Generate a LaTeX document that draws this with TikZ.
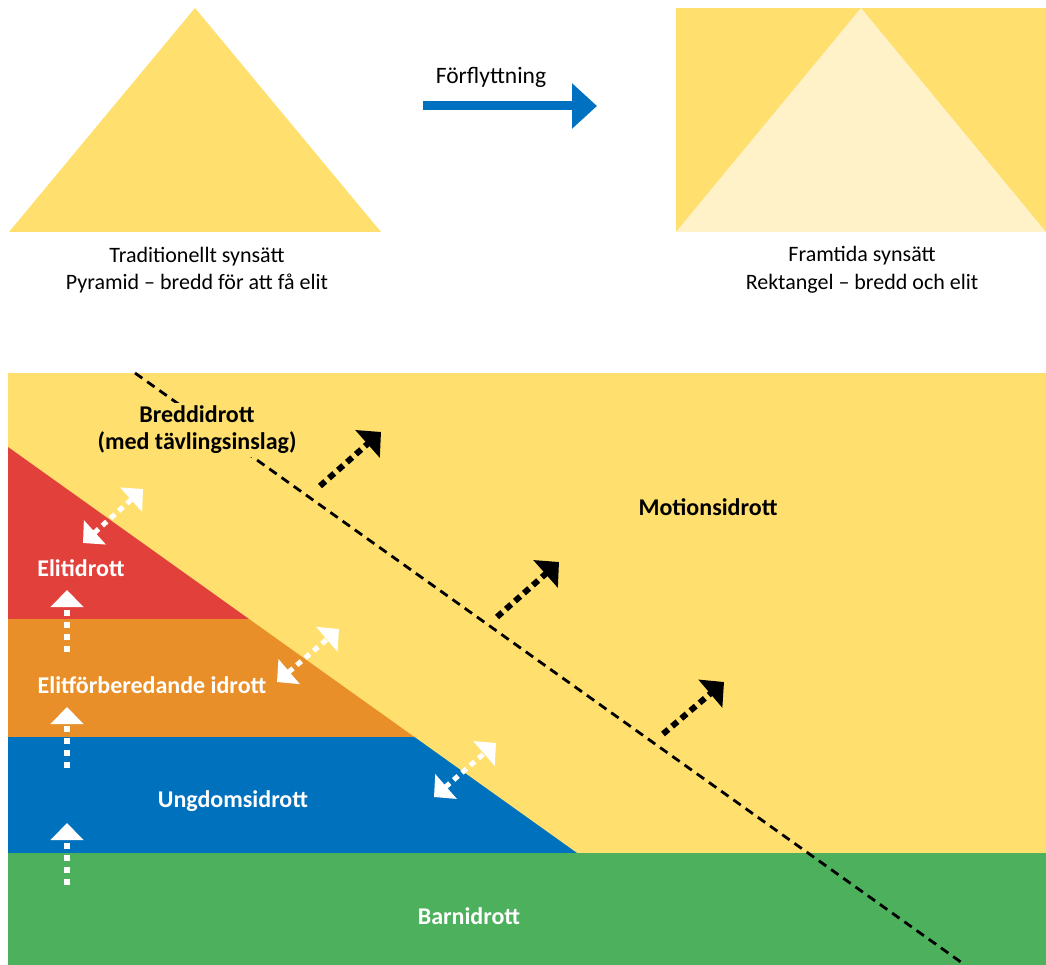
\documentclass[tikz,border=0pt]{standalone}
\usepackage{fontspec}
\setmainfont{Carlito}
\usetikzlibrary{arrows.meta}
\definecolor{ylw}{HTML}{FFDF6E}
\definecolor{lylw}{HTML}{FFF1C8}
\definecolor{redc}{HTML}{E2403A}
\definecolor{orgc}{HTML}{E98F2A}
\definecolor{bluc}{HTML}{0071BC}
\definecolor{grnc}{HTML}{4CB05C}
\definecolor{arrblue}{HTML}{0070C0}
\begin{document}
\begin{tikzpicture}[x=1pt,y=-1pt,
  lbl/.style={font=\fontsize{22}{27.5}\selectfont, align=center, inner sep=0pt},
  blbl/.style={font=\fontsize{24}{27}\selectfont\bfseries, align=center, inner sep=0pt},
  blackarr/.style={line width=6pt, dash pattern=on 7pt off 5pt, -{Triangle[width=36pt,length=18pt]}},
  whitearr/.style={white, line width=5pt, dash pattern=on 6pt off 5pt, {Triangle[width=32pt,length=16pt]}-{Triangle[width=32pt,length=16pt]}},
  uparr/.style={white, line width=6pt, dash pattern=on 6pt off 6pt, -{Triangle[width=32pt,length=17pt]}},
  divline/.style={black, line width=2.8pt, dash pattern=on 9pt off 6pt}
]
\useasboundingbox (0,0) rectangle (1046,965);

% ---------- top part ----------
\fill[ylw] (9,232) -- (195,8) -- (381,232) -- cycle;
\node[lbl] (trad) at (197,270) {Traditionellt synsätt\\Pyramid – bredd för att få elit};

\coordinate (bstart) at (423,106);
\coordinate (bend) at (597,106);
\draw[arrblue, line width=9pt, -{Triangle[width=44pt,length=25pt]}] (bstart) -- (bend);
\node[lbl, font=\fontsize{23.5}{27}\selectfont] (forfl) at (491,77) {Förflyttning};

\fill[ylw] (676,8) rectangle (1046,232);
\fill[lylw] (676,232) -- (861,8) -- (1046,232) -- cycle;
\node[lbl] (fram) at (862,270) {Framtida synsätt\\Rektangel – bredd och elit};

% ---------- bottom part ----------
\fill[ylw] (8,373) rectangle (1046,965);
\fill[redc] (8,447) -- (249,619) -- (8,619) -- cycle;
\fill[orgc] (8,619) -- (249,619) -- (414.4,737) -- (8,737) -- cycle;
\fill[bluc] (8,737) -- (414.4,737) -- (577,853) -- (8,853) -- cycle;
\fill[grnc] (8,853) rectangle (1046,965);

\coordinate (dtop) at (135,373);
\coordinate (dbot) at (965,965);
\draw[divline] (dtop) -- (dbot);

\node[blbl, fill=ylw, inner sep=3pt] (bredd) at (197,430) {Breddidrott\\(med tävlingsinslag)};
\node[blbl] (motion) at (708,507) {Motionsidrott};
\node[blbl, white] (elit) at (81,568) {Elitidrott};
\node[blbl, white] (elitf) at (152,685) {Elitförberedande idrott};
\node[blbl, white] (ungdom) at (233,801) {Ungdomsidrott};
\node[blbl, white] (barn) at (469,916) {Barnidrott};

% black arrows
\coordinate (b1s) at (320,486); \coordinate (b1e) at (381,432);
\coordinate (b2s) at (497,617); \coordinate (b2e) at (559,562);
\coordinate (b3s) at (663,734); \coordinate (b3e) at (724,682);
\draw[blackarr] (b1s) -- (b1e);
\draw[blackarr] (b2s) -- (b2e);
\draw[blackarr] (b3s) -- (b3e);

% white double arrows
\coordinate (w1s) at (83,543); \coordinate (w1e) at (143,489);
\coordinate (w2s) at (277,682); \coordinate (w2e) at (339,629);
\coordinate (w3s) at (434,797); \coordinate (w3e) at (496,743);
\draw[whitearr] (w1s) -- (w1e);
\draw[whitearr] (w2s) -- (w2e);
\draw[whitearr] (w3s) -- (w3e);

% white up arrows
\coordinate (u1s) at (67,652); \coordinate (u1e) at (67,590);
\coordinate (u2s) at (67,768); \coordinate (u2e) at (67,707);
\coordinate (u3s) at (67,885); \coordinate (u3e) at (67,823);
\draw[uparr] (u1s) -- (u1e);
\draw[uparr] (u2s) -- (u2e);
\draw[uparr] (u3s) -- (u3e);
\end{tikzpicture}
\end{document}
